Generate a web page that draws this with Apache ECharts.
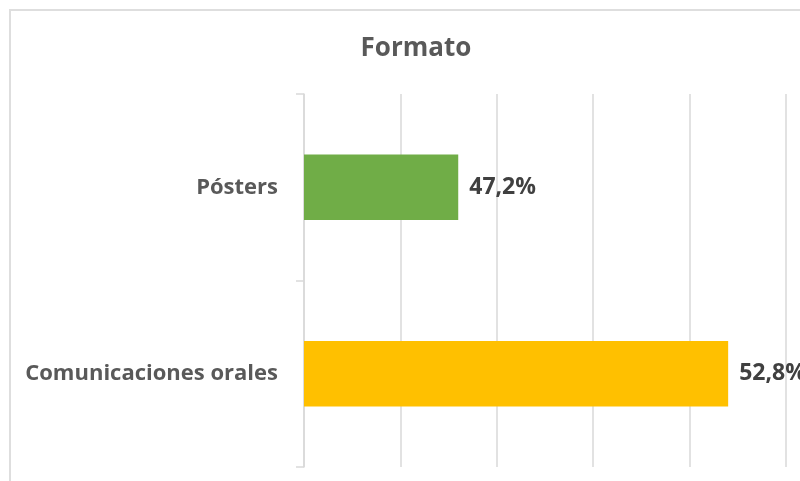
<!DOCTYPE html>
<html>
<head>
<meta charset="utf-8">
<script src="https://cdn.jsdelivr.net/npm/echarts@6/dist/echarts.min.js"></script>
<style>
  html, body { margin: 0; padding: 0; background: #fff; }
  #chart { width: 800px; height: 481px; }
</style>
</head>
<body>
<div id="chart"></div>
<script>
// datos
const categories = ['Pósters', 'Comunicaciones orales'];
const values = [47.2, 52.8];
const barColors = ['#70AD47', '#FFC000'];

const font = "'Open Sans', sans-serif";

const chart = echarts.init(document.getElementById('chart'), null, { renderer: 'canvas' });

chart.setOption({
  animation: false,
  backgroundColor: '#fff',
  title: {
    text: 'Formato',
    left: 411,
    top: 31,
    textAlign: 'center',
    textStyle: {
      fontFamily: font,
      fontSize: 26,
      fontWeight: 'bold',
      color: '#595959'
    }
  },
  // marco del gráfico
  graphic: [{
    type: 'rect',
    shape: { x: 10, y: 10, width: 820, height: 500 },
    style: { fill: 'none', stroke: '#dedede', lineWidth: 2 },
    silent: true
  }],
  grid: {
    left: 304,
    right: 14,
    top: 94,
    bottom: 14
  },
  xAxis: {
    type: 'value',
    min: 44,
    max: 54,
    interval: 2,
    axisLabel: { show: false },
    axisLine: { show: false },
    axisTick: { show: false },
    splitLine: { lineStyle: { color: '#d9d9d9', width: 1.5 } }
  },
  yAxis: {
    type: 'category',
    inverse: true,
    data: categories,
    axisLine: { show: true, lineStyle: { color: '#d9d9d9', width: 1.5 } },
    axisTick: { show: true, length: 8, lineStyle: { color: '#d9d9d9', width: 1.5 } },
    axisLabel: {
      margin: 26,
      fontFamily: font,
      fontSize: 22,
      fontWeight: 'bold',
      color: '#595959'
    }
  },
  series: [{
    type: 'bar',
    barWidth: '35%',
    data: values.map((v, i) => ({ value: v, itemStyle: { color: barColors[i] } })),
    label: {
      show: true,
      position: 'right',
      distance: 11,
      fontFamily: font,
      fontSize: 23,
      fontWeight: 'bold',
      color: '#404040',
      formatter: p => p.value.toFixed(1).replace('.', ',') + '%'
    }
  }]
});
</script>
</body>
</html>
